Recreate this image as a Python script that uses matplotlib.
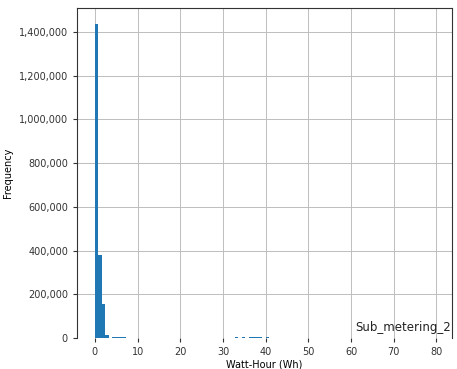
import matplotlib
matplotlib.use("Agg")
import matplotlib.pyplot as plt
from matplotlib.ticker import FuncFormatter

# Sub_metering_2 readings (Wh) and how often each one occurs
wh_values = [0, 1, 2, 3, 4, 5, 6, 7, 8, 10, 15, 20, 25, 28, 30, 33,
             35, 36, 37, 38, 39, 40, 42, 45, 50, 60, 70, 80]
wh_counts = [1437000, 380000, 155000, 16000, 6000, 4000, 3500, 2500, 2000,
             1500, 1000, 900, 1200, 1500, 1800, 2500, 3500, 4500, 5000,
             4500, 3500, 2500, 1500, 900, 500, 200, 100, 20]

fig = plt.figure(figsize=(4.57, 3.69), dpi=100)
ax = fig.add_axes([0.1685, 0.084, 0.82, 0.894])

ax.hist(wh_values, bins=100, range=(0, 80), weights=wh_counts,
        color="#1f77b4", zorder=2)
ax.set_xlim(-4.2, 83.6)
ax.set_ylim(0, max(wh_counts) * 1.05)

ax.grid(True, color="#bdbdbd", linewidth=0.7, zorder=0)
ax.set_axisbelow(True)
ax.yaxis.set_major_formatter(FuncFormatter(lambda v, p: f"{int(v):,}"))
ax.tick_params(labelsize=7, length=3, colors="#333333")
ax.set_xticks(range(0, 81, 10))

for side in ("top", "left", "right"):
    ax.spines[side].set_color("#333333")
    ax.spines[side].set_linewidth(0.8)
ax.spines["bottom"].set_visible(False)

ax.set_ylabel("Frequency", fontsize=7)
ax.set_xlabel("Watt-Hour (Wh)", fontsize=7, labelpad=2)
ax.text(0.998, 0.012, "Sub_metering_2", transform=ax.transAxes,
        ha="right", va="bottom", fontsize=8.5, color="#222222")

fig.savefig("out.png", dpi=100)
